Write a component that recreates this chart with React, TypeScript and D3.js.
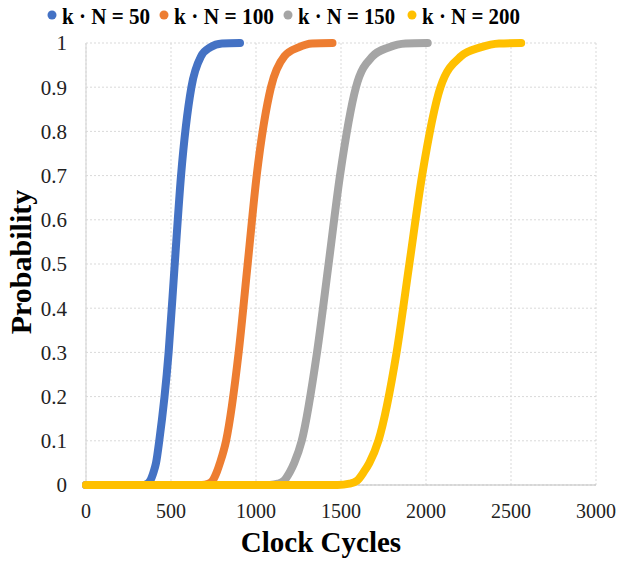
import React from "react";
import * as d3 from "d3";

const seriesNames = ["k · N = 50", "k · N = 100", "k · N = 150", "k · N = 200"];
const seriesColors = ["#4472C4", "#ED7D31", "#A5A5A5", "#FFC000"];

const probLevels = [0, 0, 0.003, 0.01, 0.03, 0.05, 0.1, 0.3, 0.5, 0.7, 0.9, 0.97, 0.99, 0.999, 1];
const cycles50 = [0, 330, 360, 378, 398, 412, 431, 486, 522, 559, 620, 677, 730, 800, 906];
const cycles100 = [0, 680, 720, 745, 770, 788, 824, 898, 951, 1004, 1088, 1167, 1250, 1330, 1450];
const cycles150 = [0, 1080, 1130, 1165, 1200, 1225, 1269, 1359, 1427, 1494, 1588, 1686, 1780, 1880, 2010];
const cycles200 = [0, 1480, 1550, 1595, 1635, 1667, 1720, 1827, 1902, 1977, 2085, 2206, 2320, 2430, 2560];

const xTicks = [0, 500, 1000, 1500, 2000, 2500, 3000];
const yTicks = [0, 0.1, 0.2, 0.3, 0.4, 0.5, 0.6, 0.7, 0.8, 0.9, 1];

const allCycles = [cycles50, cycles100, cycles150, cycles200];

export default function App() {
  const W = 620, H = 561;
  const x = d3.scaleLinear().domain([0, 3000]).range([86, 596]);
  const y = d3.scaleLinear().domain([0, 1]).range([485, 43]);
  const line = d3
    .line<[number, number]>()
    .x((d) => x(d[0]))
    .y((d) => y(d[1]))
    .curve(d3.curveMonotoneX);
  const font = "'Liberation Serif', 'Times New Roman', serif";
  const legendX = [52, 164, 288, 412];
  const legendW = [88, 100, 97, 98];

  return (
    <svg width={W} height={H} style={{ position: "absolute", left: 0, top: 0, background: "#fff" }} fontFamily={font}>
      <rect width={W} height={H} fill="#fff" />
      {yTicks.map((t) => (
        <line key={"gy" + t} x1={x(0)} x2={x(3000)} y1={y(t)} y2={y(t)} stroke="#d9d9d9" strokeWidth={1} strokeDasharray="2,2" />
      ))}
      {xTicks.map((t) => (
        <line key={"gx" + t} x1={x(t)} x2={x(t)} y1={y(0)} y2={y(1)} stroke="#d9d9d9" strokeWidth={1} strokeDasharray="2,2" />
      ))}
      <line x1={x(0)} x2={x(0)} y1={y(0)} y2={y(1)} stroke="#d9d9d9" strokeWidth={1.2} />
      <line x1={x(0)} x2={x(3000)} y1={y(0)} y2={y(0)} stroke="#bfbfbf" strokeWidth={1.2} />
      {yTicks.map((t) => (
        <text key={"ty" + t} x={67} y={y(t)} dy="0.35em" textAnchor="end" fontSize={21} fill="#222">
          {d3.format("~g")(t)}
        </text>
      ))}
      {xTicks.map((t) => (
        <text key={"tx" + t} x={x(t)} y={518} textAnchor="middle" fontSize={20} fill="#222">
          {t}
        </text>
      ))}
      {allCycles.map((cs, i) => {
        const pts: [number, number][] = cs.map((c, j) => [c, probLevels[j]]);
        return (
          <path key={"s" + i} d={line(pts) || ""} fill="none" stroke={seriesColors[i]} strokeWidth={8} strokeLinecap="round" strokeLinejoin="round" />
        );
      })}
      <text x={321} y={552} textAnchor="middle" fontSize={29} fontWeight="bold" fill="#000">
        Clock Cycles
      </text>
      <text transform={`translate(31,262) rotate(-90)`} textAnchor="middle" fontSize={30} fontWeight="bold" fill="#000">
        Probability
      </text>
      {seriesNames.map((n, i) => (
        <g key={"lg" + i}>
          <circle cx={legendX[i]} cy={15} r={4.5} fill={seriesColors[i]} />
          <text x={legendX[i] + 10} y={24} fontSize={24} fontWeight="bold" fill="#000" textLength={legendW[i]} lengthAdjust="spacingAndGlyphs">
            {n}
          </text>
        </g>
      ))}
    </svg>
  );
}
